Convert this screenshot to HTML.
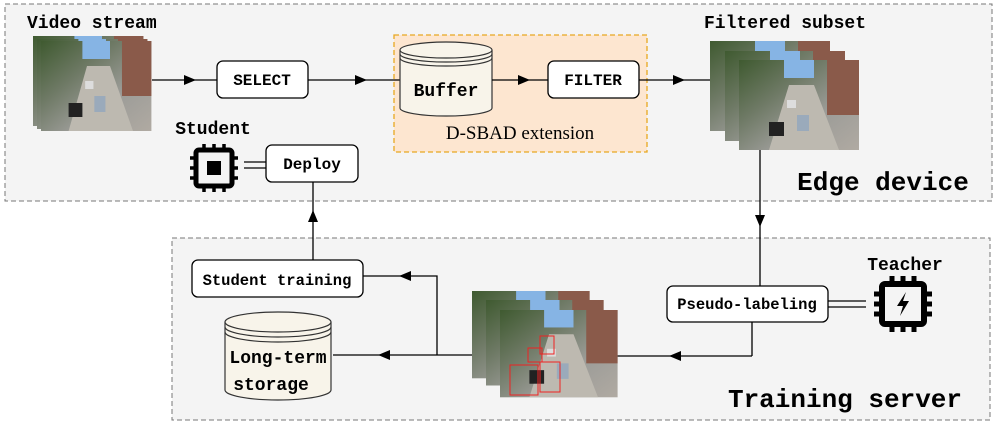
<!DOCTYPE html>
<html><head><meta charset="utf-8"><style>
body{margin:0;background:#fff}
svg{display:block}
.m{font-family:"Liberation Mono",monospace;font-weight:bold}
</style></head><body>
<svg width="997" height="427" viewBox="0 0 997 427" xmlns="http://www.w3.org/2000/svg">
<defs>
<linearGradient id="img" x1="0" y1="0" x2="1" y2="1">
<stop offset="0" stop-color="#3f5a30"/><stop offset="0.35" stop-color="#6f7a66"/><stop offset="0.65" stop-color="#9c9c98"/><stop offset="1" stop-color="#b0aaa2"/></linearGradient>
<g id="frame">
<rect width="120" height="90" fill="url(#img)"/>
<rect x="45" y="0" width="30" height="18" fill="#86b4e4"/>
<rect x="88" y="0" width="32" height="55" fill="#8a5a4a"/>
<path d="M50,25 L75,25 L100,90 L30,90z" fill="#bdb9b0"/>
<rect x="30" y="62" width="15" height="14" fill="#222"/>
<rect x="58" y="55" width="12" height="16" fill="#9aaabb"/>
<rect x="48" y="40" width="9" height="8" fill="#ddd"/>
</g>
</defs>
<rect x="5" y="4" width="987" height="197" fill="#f4f4f4" stroke="#777" stroke-dasharray="5,3"/>
<rect x="172" y="238" width="818" height="182" fill="#f4f4f4" stroke="#777" stroke-dasharray="5,3"/>
<rect x="394" y="35" width="253" height="117" fill="#fde6d0" stroke="#e8a820" stroke-width="1.3" stroke-dasharray="5,3"/>
<text x="27" y="28" class="m" font-size="18">Video stream</text>
<use href="#frame" transform="translate(33,36) scale(0.92,1)"/>
<use href="#frame" transform="translate(37,39) scale(0.92,1)"/>
<use href="#frame" transform="translate(41,41) scale(0.92,1)"/>
<line x1="152" y1="80" x2="217" y2="80" stroke="#000" stroke-width="1.3"/>
<path d="M184,75 L196,80 L184,85z"/>
<rect x="217" y="61" width="91" height="37" rx="6" fill="#fff" stroke="#000" stroke-width="1.3"/>
<text x="262" y="85" class="m" font-size="16" text-anchor="middle">SELECT</text>
<line x1="308" y1="80" x2="400" y2="80" stroke="#000" stroke-width="1.3"/>
<path d="M355,75 L367,80 L355,85z"/>
<path d="M400,50 L400,108 A46,8 0 0 0 492,108 L492,50" fill="#f8f4ea" stroke="#333" stroke-width="1.2"/>
<ellipse cx="446" cy="50" rx="46" ry="8" fill="#f8f4ea" stroke="#333" stroke-width="1.2"/>
<path d="M400,54 A46,8 0 0 0 492,54 M400,58 A46,8 0 0 0 492,58" fill="none" stroke="#333" stroke-width="1.2"/>
<text x="446" y="96" class="m" font-size="18" text-anchor="middle">Buffer</text>
<line x1="492" y1="80" x2="548" y2="80" stroke="#000" stroke-width="1.3"/>
<path d="M518,75 L530,80 L518,85z"/>
<rect x="548" y="61" width="91" height="37" rx="6" fill="#fff" stroke="#000" stroke-width="1.3"/>
<text x="593" y="85" class="m" font-size="16" text-anchor="middle">FILTER</text>
<text x="520" y="139" font-family="Liberation Serif,serif" font-size="19" text-anchor="middle">D-SBAD extension</text>
<line x1="639" y1="80" x2="710" y2="80" stroke="#000" stroke-width="1.3"/>
<path d="M673,75 L685,80 L673,85z"/>
<text x="785" y="28" class="m" font-size="18" text-anchor="middle">Filtered subset</text>
<use href="#frame" transform="translate(710,41)"/>
<use href="#frame" transform="translate(725,51)"/>
<use href="#frame" transform="translate(739,60)"/>
<text x="883" y="190" class="m" font-size="26" text-anchor="middle">Edge device</text>
<text x="213" y="134" class="m" font-size="18" text-anchor="middle">Student</text>
<g transform="translate(214,168)">
<rect x="-18" y="-18" width="36" height="36" rx="3" fill="none" stroke="#000" stroke-width="5"/>
<rect x="-7" y="-7" width="14" height="14" fill="#000"/>
<path d="M-10,-18v-6M0,-18v-6M10,-18v-6M-10,18v6M0,18v6M10,18v6M-18,-10h-6M-18,0h-6M-18,10h-6M18,-10h6M18,0h6M18,10h6" stroke="#000" stroke-width="3.5"/>
</g>
<path d="M244,162 H267 M244,168 H267" stroke="#000" stroke-width="1.3"/>
<rect x="266" y="145" width="92" height="37" rx="6" fill="#fff" stroke="#000" stroke-width="1.3"/>
<text x="312" y="169" class="m" font-size="16" text-anchor="middle">Deploy</text>
<line x1="313" y1="182" x2="313" y2="260" stroke="#000" stroke-width="1.3"/>
<path d="M308,222 L313,210 L318,222z"/>
<line x1="760" y1="150" x2="760" y2="286" stroke="#000" stroke-width="1.3"/>
<path d="M755,215 L760,227 L765,215z"/>
<rect x="667" y="286" width="161" height="36" rx="6" fill="#fff" stroke="#000" stroke-width="1.3"/>
<text x="747" y="309" class="m" font-size="15.5" text-anchor="middle">Pseudo-labeling</text>
<path d="M828,301 H866 M828,307 H866" stroke="#000" stroke-width="1.3"/>
<text x="905" y="270" class="m" font-size="18" text-anchor="middle">Teacher</text>
<g transform="translate(903,304)">
<rect x="-21" y="-20" width="42" height="40" rx="3" fill="none" stroke="#000" stroke-width="6"/>
<path d="M3,-12 L-6,2 L0,2 L-3,12 L6,-3 L0,-3z" fill="#000"/>
<path d="M-11,-20v-8M0,-20v-8M11,-20v-8M-11,20v8M0,20v8M11,20v8M-21,-10h-8M-21,0h-8M-21,10h-8M21,-10h8M21,0h8M21,10h8" stroke="#000" stroke-width="5"/>
</g>
<line x1="752" y1="322" x2="752" y2="356" stroke="#000" stroke-width="1.3"/>
<line x1="752" y1="356" x2="617" y2="356" stroke="#000" stroke-width="1.3"/>
<path d="M681,351 L669,356 L681,361z"/>
<use href="#frame" transform="translate(472,291) scale(0.98,0.97)"/>
<use href="#frame" transform="translate(486,300) scale(0.98,0.95)"/>
<use href="#frame" transform="translate(500,310) scale(0.98,0.97)"/>
<g fill="none" stroke="#e22" stroke-width="1">
<rect x="510" y="365" width="28" height="30"/><rect x="540" y="362" width="20" height="30"/><rect x="528" y="348" width="14" height="14"/><rect x="540" y="336" width="14" height="18"/></g>
<path d="M472,355 H333 M437,355 V276 H363" fill="none" stroke="#000" stroke-width="1.3"/>
<path d="M390,350 L378,355 L390,360z"/>
<path d="M411,271 L399,276 L411,281z"/>
<rect x="192" y="260" width="171" height="37" rx="6" fill="#fff" stroke="#000" stroke-width="1.3"/>
<text x="277" y="285" class="m" font-size="15.5" text-anchor="middle">Student training</text>
<path d="M225,322 L225,390 A53,10 0 0 0 331,390 L331,322" fill="#f8f4ea" stroke="#333" stroke-width="1.2"/>
<ellipse cx="278" cy="322" rx="53" ry="10" fill="#f8f4ea" stroke="#333" stroke-width="1.2"/>
<path d="M225,327 A53,10 0 0 0 331,327 M225,332 A53,10 0 0 0 331,332" fill="none" stroke="#333" stroke-width="1.2"/>
<text x="278" y="363" class="m" font-size="18" text-anchor="middle">Long-term</text>
<text x="271" y="390" class="m" font-size="18" text-anchor="middle">storage</text>
<text x="845" y="407" class="m" font-size="26" text-anchor="middle">Training server</text>
</svg>
</body></html>
